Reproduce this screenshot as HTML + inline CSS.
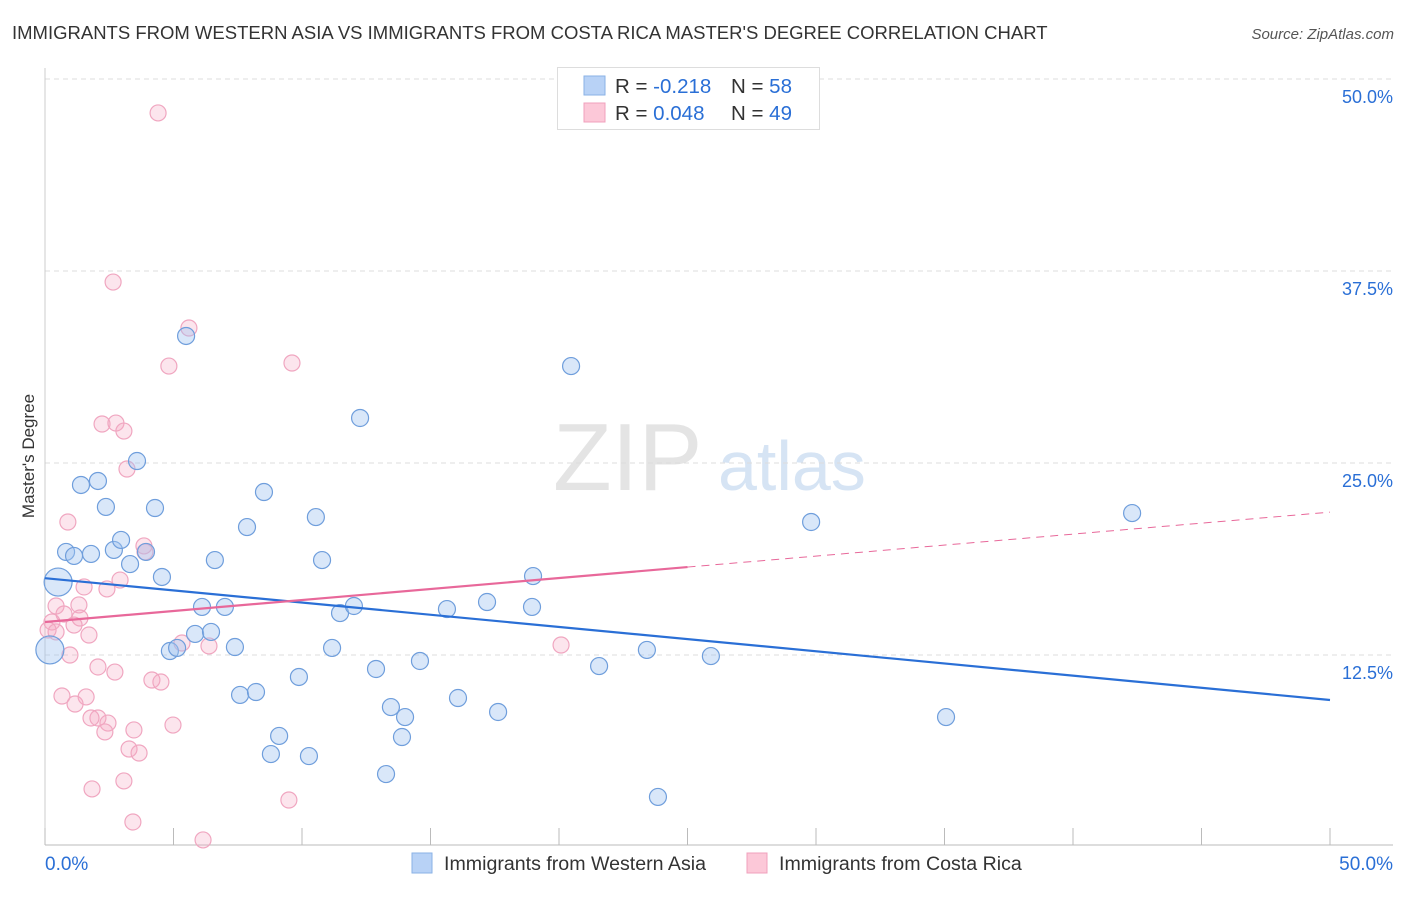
<!DOCTYPE html>
<html><head><meta charset="utf-8"><style>
body{margin:0;background:#fff;font-family:"Liberation Sans",sans-serif;}
svg text{font-family:"Liberation Sans",sans-serif;}
</style></head><body>
<svg id="chart" width="1406" height="892" xmlns="http://www.w3.org/2000/svg">
<text x="12" y="39" font-size="18.5" fill="#333">IMMIGRANTS FROM WESTERN ASIA VS IMMIGRANTS FROM COSTA RICA MASTER'S DEGREE CORRELATION CHART</text>
<text x="1394" y="39" font-size="15" fill="#555" font-style="italic" text-anchor="end">Source: ZipAtlas.com</text>
<text x="34" y="456" font-size="17" fill="#333" text-anchor="middle" transform="rotate(-90 34 456)">Master's Degree</text>
<g><text x="553" y="490" font-size="96" fill="#e4e4e4" font-family="Liberation Serif">ZIP</text><text x="718" y="490" font-size="70" fill="#d6e4f4">atlas</text></g>
<g id="grid"></g><g id="axes"></g><g id="pts"></g><g id="lines"></g>
<g>
<rect x="557.5" y="67.5" width="262" height="62" fill="#fff" stroke="#ddd"/>
<rect x="584" y="76" width="21" height="19" fill="#b8d2f6" stroke="#8ab2e6"/>
<rect x="584" y="103" width="21" height="19" fill="#fcc8d8" stroke="#f0a0bc"/>
<text x="615" y="93" font-size="20.5" fill="#333">R = <tspan fill="#2a6fd6">-0.218</tspan><tspan x="731">N = </tspan><tspan fill="#2a6fd6">58</tspan></text>
<text x="615" y="120" font-size="20.5" fill="#333">R = <tspan fill="#2a6fd6"> 0.048</tspan><tspan x="731">N = </tspan><tspan fill="#2a6fd6">49</tspan></text>
</g>
<g>
<rect x="412" y="853" width="20" height="20" fill="#b8d2f6" stroke="#8ab2e6"/>
<text x="444" y="870" font-size="19.6" fill="#333">Immigrants from Western Asia</text>
<rect x="747" y="853" width="20" height="20" fill="#fcc8d8" stroke="#f0a0bc"/>
<text x="779" y="870" font-size="19.6" fill="#333">Immigrants from Costa Rica</text>
</g>
<text x="45" y="870" font-size="19" fill="#2a6fd6">0.0%</text>
<text x="1393" y="870" font-size="19" fill="#2a6fd6" text-anchor="end">50.0%</text>
</svg>
<script>
const blueX=[5.49,20.47,12.26,3.58,1.40,2.06,8.52,2.37,4.28,10.54,7.86,29.81,42.30,0.82,1.13,1.79,2.68,2.96,3.93,3.31,6.61,10.78,0.51,4.55,18.99,6.11,7.00,11.48,12.02,15.64,17.20,18.95,5.84,6.46,4.86,5.14,7.39,11.17,14.59,12.88,21.56,23.42,25.91,0.19,9.88,7.59,8.21,16.07,13.46,14.01,17.63,9.11,13.89,8.79,10.27,13.27,23.85,35.06];
const blueY=[33.27,31.31,27.93,25.13,23.57,23.83,23.11,22.14,22.07,21.48,20.83,21.16,21.74,19.21,18.95,19.08,19.34,19.99,19.21,18.42,18.68,18.68,17.25,17.58,17.64,15.63,15.63,15.23,15.69,15.49,15.95,15.63,13.87,14.00,12.76,12.96,13.02,12.96,12.11,11.59,11.78,12.83,12.43,12.83,11.07,9.90,10.09,9.70,9.11,8.46,8.79,7.23,7.16,6.05,5.92,4.75,3.26,8.46];
const blueBig=[22,43];
const pinkX=[4.40,2.65,5.60,4.82,9.61,2.22,2.76,3.07,3.19,0.89,3.85,3.89,2.92,1.52,2.41,0.43,1.32,0.74,1.36,0.27,1.13,0.12,1.71,0.43,5.33,6.38,20.08,0.97,2.06,2.72,4.16,4.51,0.66,1.60,1.17,2.06,1.79,2.45,2.33,3.46,4.98,3.27,3.66,3.07,1.83,9.49,3.42,6.15];
const pinkY=[47.79,36.78,33.79,31.31,31.51,27.54,27.60,27.08,24.61,21.16,19.60,19.21,17.38,16.93,16.80,15.69,15.76,15.17,14.91,14.65,14.45,14.13,13.80,14.00,13.28,13.09,13.15,12.50,11.72,11.39,10.87,10.74,9.83,9.77,9.31,8.40,8.40,8.07,7.49,7.62,7.94,6.38,6.12,4.30,3.78,3.06,1.63,0.46];
const yTicks=[12.5,25,37.5,50];
const yTickLabels=["12.5%","25.0%","37.5%","50.0%"];
const blueTrend=[17.5,9.57];
const pinkTrend=[14.65,21.8];
const pinkSolidEnd=25;
const X0=45,X1=1330,Y0=847,Y1=79;
const sx=v=>X0+(v/50)*(X1-X0);
const sy=v=>Y0-(v/50)*(Y0-Y1);
const NS="http://www.w3.org/2000/svg";
function mk(tag,parent,attrs){const e=document.createElementNS(NS,tag);for(const k in attrs)e.setAttribute(k,attrs[k]);document.getElementById(parent).appendChild(e);return e;}
yTicks.forEach((t,i)=>{
 const g=mk('line','grid',{x1:X0,x2:1393,y1:sy(t),y2:sy(t),stroke:'#ddd','stroke-dasharray':'5,4'});
 
 
 const tx=mk('text','grid',{x:1393,y:sy(t)+24,'font-size':18,fill:'#2a6fd6','text-anchor':'end'});
 tx.textContent=yTickLabels[i];
 
 
});
const ax=mk('line','axes',{x1:X0,x2:1393,y1:845,y2:845,stroke:'#bbb'});


const ay=mk('line','axes',{x1:X0,x2:X0,y1:68,y2:845,stroke:'#ccc'});


for(let i=0;i<=10;i++){const t=mk('line','axes',{x1:sx(i*5),x2:sx(i*5),y1:828,y2:845,stroke:'#bbb'});
 
 }
pinkX.forEach((v,i)=>{const c=mk('circle','pts',{cx:sx(v),cy:sy(pinkY[i]),r:8,fill:'rgba(246,170,196,0.3)',stroke:'#f0a6c0','stroke-width':1.2});
 
 });
blueX.forEach((v,i)=>{const big=blueBig.includes(i);const c=mk('circle','pts',{cx:sx(v),cy:sy(blueY[i]),r:big?14:8.5,fill:'rgba(160,196,240,0.4)',stroke:'#6f9edc','stroke-width':1.2});
 
 });
const bl=mk('line','lines',{x1:sx(0),y1:sy(blueTrend[0]),x2:sx(50),y2:sy(blueTrend[1]),stroke:'#2a6fd6','stroke-width':2.2});


const pm=pinkTrend[0]+(pinkTrend[1]-pinkTrend[0])*pinkSolidEnd/50;
const pl=mk('line','lines',{x1:sx(0),y1:sy(pinkTrend[0]),x2:sx(pinkSolidEnd),y2:sy(pm),stroke:'#e8689a','stroke-width':2.2});


const pd=mk('line','lines',{x1:sx(pinkSolidEnd),y1:sy(pm),x2:sx(50),y2:sy(pinkTrend[1]),stroke:'#e8689a','stroke-width':1,'stroke-dasharray':'8,6'});


</script>
</body></html>
